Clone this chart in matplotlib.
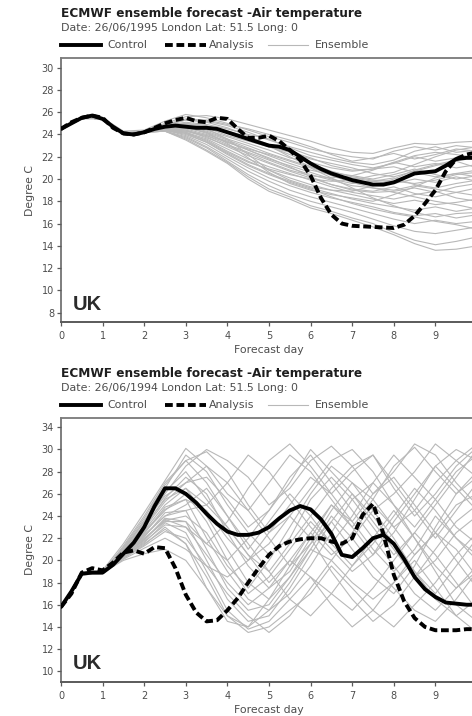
import numpy as np
import matplotlib
matplotlib.use("Agg")
import matplotlib.pyplot as plt
from matplotlib.lines import Line2D

plt.rcParams['font.family'] = ['DejaVu Sans']

W, H = 472, 716

# ---------------------------------------------------------------- data
days_fine = np.arange(0, 10.01, 0.25)
days_ens = np.arange(0, 10.01, 0.5)

# 1995 case
control_1995 = [24.5, 25.0, 25.5, 25.7, 25.4, 24.7, 24.1, 24.0, 24.2, 24.5, 24.7,
                24.8, 24.7, 24.6, 24.6, 24.5, 24.2, 23.9, 23.6, 23.3, 23.0, 22.9,
                22.6, 22.0, 21.4, 20.9, 20.5, 20.2, 19.9, 19.7, 19.5, 19.5, 19.7,
                20.1, 20.5, 20.6, 20.7, 21.2, 21.8, 21.9, 21.9]
analysis_1995 = [24.5, 25.1, 25.5, 25.7, 25.5, 24.6, 24.1, 24.0, 24.2, 24.6, 25.0,
                 25.3, 25.5, 25.2, 25.1, 25.5, 25.4, 24.5, 23.7, 23.7, 23.9, 23.4,
                 22.6, 21.7, 20.3, 18.3, 16.8, 16.0, 15.8, 15.75, 15.7, 15.65, 15.6,
                 15.9, 16.7, 17.8, 19.0, 20.7, 21.8, 22.2, 22.4]
ensemble_1995 = [
    [24.5, 25.5, 25.4, 24.2, 24.3, 25.0, 25.6, 25.7, 25.4, 24.9, 24.4, 23.9, 23.4, 22.8, 22.4, 22.3, 22.8, 23.2, 23.1, 23.3, 23.4],
    [24.5, 25.5, 25.5, 24.3, 24.4, 25.2, 25.8, 25.5, 25.0, 24.4, 23.8, 23.3, 22.7, 22.3, 22.0, 21.8, 22.5, 22.9, 22.6, 23.0, 22.8],
    [24.5, 25.4, 25.4, 24.1, 24.2, 24.9, 25.4, 25.3, 24.9, 24.5, 24.0, 23.5, 22.9, 22.2, 21.6, 21.9, 22.3, 21.8, 22.2, 22.7, 22.5],
    [24.5, 25.5, 25.4, 24.1, 24.2, 24.8, 25.1, 24.9, 24.5, 24.0, 23.6, 22.8, 22.1, 21.7, 21.3, 21.0, 21.4, 22.0, 21.6, 21.9, 22.1],
    [24.5, 25.5, 25.4, 24.0, 24.1, 24.7, 24.9, 24.7, 24.3, 23.8, 23.1, 22.5, 21.9, 21.2, 20.8, 20.9, 21.5, 21.1, 21.4, 21.0, 21.3],
    [24.5, 25.5, 25.4, 24.1, 24.2, 24.8, 25.0, 24.6, 23.9, 23.4, 22.9, 22.4, 21.8, 21.4, 21.0, 20.5, 20.2, 20.7, 21.2, 21.6, 21.0],
    [24.5, 25.5, 25.4, 24.1, 24.2, 24.7, 24.8, 24.4, 23.8, 23.2, 22.6, 21.9, 21.5, 21.0, 20.7, 20.9, 21.1, 20.6, 20.2, 20.5, 20.8],
    [24.5, 25.5, 25.4, 24.1, 24.3, 24.8, 24.7, 24.3, 23.6, 23.0, 22.3, 21.7, 21.1, 20.6, 20.3, 20.0, 20.4, 20.9, 20.4, 20.0, 20.3],
    [24.5, 25.5, 25.4, 24.1, 24.2, 24.6, 24.6, 24.2, 23.5, 22.8, 22.1, 21.4, 20.8, 20.4, 20.1, 19.8, 19.6, 20.0, 19.7, 20.2, 19.8],
    [24.5, 25.5, 25.4, 24.1, 24.2, 24.7, 24.5, 24.0, 23.4, 22.6, 21.8, 21.2, 20.6, 20.0, 19.6, 19.8, 20.1, 19.5, 19.2, 19.6, 19.9],
    [24.5, 25.5, 25.4, 24.1, 24.2, 24.6, 24.4, 23.9, 23.1, 22.4, 21.7, 21.0, 20.4, 19.9, 19.4, 19.2, 19.0, 19.4, 19.1, 18.8, 19.2],
    [24.5, 25.5, 25.4, 24.1, 24.2, 24.5, 24.3, 23.8, 22.9, 22.1, 21.4, 20.7, 20.1, 19.5, 19.1, 18.9, 19.3, 18.7, 18.4, 18.8, 18.5],
    [24.5, 25.5, 25.4, 24.1, 24.2, 24.5, 24.2, 23.6, 22.7, 21.8, 21.1, 20.5, 19.9, 19.3, 18.8, 18.5, 18.2, 18.6, 18.9, 18.3, 18.0],
    [24.5, 25.5, 25.4, 24.1, 24.2, 24.4, 24.1, 23.5, 22.5, 21.6, 20.8, 20.1, 19.5, 19.0, 18.6, 18.2, 17.8, 18.1, 17.7, 17.9, 18.2],
    [24.5, 25.5, 25.4, 24.1, 24.2, 24.4, 24.0, 23.3, 22.3, 21.3, 20.5, 19.8, 19.2, 18.7, 18.2, 17.8, 17.5, 17.2, 17.5, 17.1, 17.4],
    [24.5, 25.5, 25.4, 24.1, 24.2, 24.4, 23.9, 23.1, 22.0, 21.0, 20.1, 19.4, 18.8, 18.3, 17.9, 17.5, 17.0, 16.7, 16.9, 16.5, 16.8],
    [24.5, 25.5, 25.4, 24.1, 24.2, 24.3, 23.8, 22.9, 21.8, 20.7, 19.8, 19.0, 18.4, 17.9, 17.4, 16.9, 16.4, 16.0, 16.3, 16.0, 16.2],
    [24.5, 25.5, 25.4, 24.1, 24.2, 24.3, 23.7, 22.8, 21.6, 20.4, 19.4, 18.6, 18.0, 17.5, 17.0, 16.4, 15.8, 15.3, 15.1, 15.4, 15.7],
    [24.5, 25.5, 25.4, 24.1, 24.2, 24.3, 23.6, 22.6, 21.5, 20.2, 19.1, 18.4, 17.6, 17.1, 16.5, 16.0, 15.2, 14.5, 14.1, 14.4, 14.8],
    [24.5, 25.5, 25.4, 24.1, 24.2, 24.3, 23.5, 22.5, 21.4, 20.0, 18.9, 18.2, 17.4, 16.9, 16.3, 15.7, 15.0, 14.2, 13.6, 13.7, 14.0],
    [24.5, 25.5, 25.4, 24.1, 24.2, 24.6, 24.9, 24.5, 23.6, 22.2, 20.8, 19.9, 19.3, 19.0, 18.9, 19.4, 20.0, 20.8, 21.3, 21.7, 22.0],
    [24.5, 25.5, 25.4, 24.1, 24.2, 24.5, 24.6, 24.2, 23.2, 21.9, 20.6, 19.6, 19.0, 18.6, 18.3, 18.0, 18.6, 19.3, 20.1, 20.5, 20.2],
    [24.5, 25.5, 25.4, 24.1, 24.2, 24.8, 25.3, 25.1, 24.6, 23.9, 23.0, 22.0, 21.1, 20.3, 19.7, 19.2, 18.8, 18.4, 18.0, 17.7, 17.3],
    [24.5, 25.5, 25.4, 24.1, 24.2, 24.6, 24.7, 24.1, 23.3, 22.7, 22.2, 21.6, 21.0, 20.1, 19.2, 18.3, 17.6, 17.0, 16.6, 16.9, 17.0],
    [24.5, 25.5, 25.4, 24.1, 24.2, 24.5, 24.4, 23.7, 23.0, 22.3, 21.5, 20.8, 20.3, 20.1, 20.3, 20.8, 21.5, 22.1, 22.4, 22.2, 21.9],
    [24.5, 25.5, 25.4, 24.1, 24.2, 24.4, 24.2, 23.4, 22.4, 21.5, 20.9, 20.4, 20.0, 19.8, 19.9, 20.3, 20.6, 21.3, 22.0, 22.6, 22.9],
    [24.5, 25.5, 25.4, 24.1, 24.2, 24.7, 25.0, 24.8, 24.2, 23.5, 22.9, 22.2, 21.4, 20.7, 20.2, 19.9, 19.8, 19.6, 19.9, 20.4, 20.6],
    [24.5, 25.5, 25.4, 24.1, 24.2, 24.4, 24.1, 23.3, 22.2, 21.2, 20.4, 19.7, 19.1, 18.4, 17.8, 17.3, 16.9, 16.6, 16.2, 15.9, 15.5],
    [24.5, 25.5, 25.4, 24.1, 24.2, 24.9, 25.3, 25.2, 24.8, 24.2, 23.5, 22.9, 22.4, 21.9, 21.5, 21.3, 21.7, 22.5, 22.9, 22.4, 22.6],
    [24.5, 25.5, 25.4, 24.1, 24.2, 24.5, 24.3, 23.9, 23.3, 22.6, 21.9, 21.1, 20.2, 19.5, 19.0, 18.8, 18.9, 19.2, 18.8, 19.3, 19.6],
]

# 1994 case
control_1994 = [15.8, 17.2, 18.8, 18.9, 18.9, 19.6, 20.6, 21.6, 23.0, 24.9, 26.5,
                26.5, 26.0, 25.2, 24.2, 23.3, 22.6, 22.3, 22.3, 22.5, 23.0, 23.8,
                24.5, 24.9, 24.6, 23.7, 22.4, 20.5, 20.3, 21.1, 22.0, 22.3, 21.5,
                20.1, 18.5, 17.4, 16.7, 16.2, 16.1, 16.0, 16.0]
analysis_1994 = [15.8, 17.0, 18.9, 19.3, 19.1, 19.8, 20.7, 20.9, 20.6, 21.2, 21.1,
                 19.3, 16.9, 15.3, 14.5, 14.6, 15.5, 16.6, 18.0, 19.3, 20.5, 21.3,
                 21.7, 21.9, 22.0, 22.0, 21.7, 21.5, 22.0, 24.1, 25.1, 22.4, 18.7,
                 16.3, 14.8, 14.0, 13.7, 13.7, 13.7, 13.8, 13.8]
ensemble_1994 = [
    [15.8, 18.9, 19.1, 21.5, 24.3, 27.2, 30.1, 28.5, 26.0, 24.5, 27.0, 29.5, 28.0, 25.5, 23.0, 25.5, 28.5, 30.2, 28.0, 26.0, 27.5],
    [15.8, 18.8, 19.0, 21.2, 23.8, 26.8, 29.0, 29.8, 28.0, 25.0, 22.5, 24.0, 26.5, 29.0, 30.0, 28.0, 25.0, 23.0, 25.5, 28.0, 29.5],
    [15.8, 18.8, 18.9, 21.0, 23.5, 26.2, 28.0, 25.5, 23.0, 20.5, 19.0, 21.5, 24.0, 26.5, 28.5, 29.5, 27.0, 24.5, 22.0, 24.5, 27.0],
    [15.8, 18.8, 18.9, 20.8, 23.0, 25.6, 27.5, 26.0, 22.5, 19.5, 17.5, 19.0, 22.0, 25.0, 23.0, 20.5, 22.5, 25.5, 28.5, 30.0, 29.0],
    [15.8, 18.7, 18.8, 20.6, 22.7, 25.0, 26.5, 24.0, 21.0, 18.0, 16.5, 18.5, 21.5, 23.5, 21.0, 18.5, 17.0, 19.5, 23.0, 26.0, 28.0],
    [15.8, 18.8, 18.9, 20.7, 22.4, 24.8, 25.5, 22.0, 19.0, 16.5, 15.5, 17.0, 19.5, 22.5, 25.5, 27.0, 25.0, 22.0, 19.5, 17.5, 19.0],
    [15.8, 18.8, 18.9, 20.5, 22.1, 24.3, 24.5, 21.0, 17.5, 15.5, 16.0, 18.5, 21.0, 20.0, 18.0, 16.5, 18.0, 20.5, 22.5, 21.0, 18.5],
    [15.8, 18.8, 18.9, 20.4, 21.8, 23.8, 23.5, 20.0, 16.5, 14.5, 15.0, 17.5, 20.5, 23.5, 26.0, 24.0, 21.5, 19.0, 16.5, 15.0, 16.5],
    [15.8, 18.8, 18.9, 20.3, 21.6, 23.4, 22.5, 19.0, 15.5, 13.8, 14.5, 16.5, 18.5, 17.0, 15.5, 17.5, 20.0, 22.5, 20.5, 18.0, 15.5],
    [15.8, 18.7, 18.8, 20.2, 21.4, 23.0, 21.5, 18.5, 15.0, 14.0, 15.5, 18.0, 21.0, 24.0, 22.0, 19.5, 17.5, 15.5, 14.5, 16.5, 19.0],
    [15.8, 18.8, 18.9, 20.9, 23.2, 26.0, 28.5, 30.0, 29.0, 27.5, 25.0, 26.5, 29.0, 30.3, 28.5, 26.0, 28.0, 30.5, 29.5, 27.0, 25.0],
    [15.8, 18.8, 19.0, 21.1, 23.6, 26.5, 29.5, 28.0, 25.0, 22.5, 20.5, 22.0, 25.5, 27.5, 25.5, 23.0, 20.5, 22.5, 25.0, 27.5, 30.0],
    [15.8, 18.8, 18.9, 20.8, 22.9, 25.3, 27.0, 27.5, 25.5, 23.0, 24.5, 27.0, 30.0, 28.0, 26.0, 23.5, 21.0, 18.5, 20.0, 22.5, 24.0],
    [15.8, 18.8, 18.9, 20.6, 22.5, 24.5, 26.0, 23.5, 20.0, 17.0, 18.5, 21.0, 23.5, 21.5, 19.5, 21.5, 24.0, 26.5, 24.5, 22.0, 20.5],
    [15.8, 18.8, 18.9, 20.5, 22.2, 24.0, 25.0, 26.5, 24.0, 21.5, 19.0, 16.5, 15.0, 17.0, 19.5, 22.0, 24.5, 22.0, 19.0, 16.0, 14.5],
    [15.8, 18.8, 18.9, 20.4, 21.9, 23.6, 24.0, 22.5, 19.5, 17.5, 20.0, 23.0, 26.0, 28.5, 27.0, 24.5, 26.0, 28.0, 30.5, 29.0, 27.5],
    [15.8, 18.8, 18.9, 20.3, 21.7, 23.2, 23.0, 20.5, 18.0, 16.0, 17.5, 20.0, 18.5, 16.0, 14.0, 15.5, 18.0, 20.0, 17.5, 15.0, 13.5],
    [15.8, 18.7, 18.8, 20.2, 21.3, 22.6, 22.0, 19.5, 17.0, 15.0, 13.5, 15.0, 17.5, 20.0, 22.5, 25.0, 23.0, 20.5, 22.5, 25.0, 26.0],
    [15.8, 18.8, 18.9, 20.1, 21.1, 22.0, 21.0, 19.5, 18.5, 20.0, 22.5, 25.0, 27.5, 26.0, 23.5, 21.0, 19.0, 21.0, 24.0, 22.0, 20.0],
    [15.8, 18.8, 18.9, 20.0, 20.6, 21.0, 20.0, 17.5, 15.0, 13.5, 14.0, 15.5, 17.0, 19.5, 17.5, 15.5, 14.0, 16.0, 18.0, 20.5, 22.5],
    [15.8, 18.8, 18.9, 21.3, 24.0, 27.0, 29.0, 27.0, 24.0, 21.0, 23.5, 26.0, 24.0, 21.5, 24.0, 27.0, 29.5, 27.5, 25.5, 23.0, 21.5],
    [15.8, 18.8, 18.9, 21.0, 23.4, 25.8, 27.0, 28.5, 27.0, 24.5, 22.0, 19.5, 21.5, 24.5, 27.0, 25.5, 23.0, 24.5, 27.0, 29.0, 30.5],
    [15.8, 18.8, 18.9, 20.7, 22.6, 24.6, 25.5, 24.5, 22.0, 20.0, 21.5, 24.0, 22.0, 19.0, 16.5, 14.5, 16.0, 18.5, 21.0, 23.5, 25.0],
    [15.8, 18.8, 18.9, 20.5, 22.0, 23.5, 23.5, 21.5, 20.0, 22.0, 24.5, 27.5, 29.5, 27.0, 24.5, 22.0, 19.5, 17.0, 15.5, 17.5, 19.5],
    [15.8, 18.8, 18.9, 20.6, 22.3, 24.0, 24.5, 25.0, 23.0, 20.5, 18.0, 20.0, 22.5, 25.0, 23.5, 26.0, 27.5, 25.0, 22.5, 20.0, 17.5],
    [15.8, 18.8, 18.9, 20.3, 21.5, 22.8, 21.5, 17.5, 14.5, 14.0, 16.5, 19.5, 22.5, 20.5, 22.0, 24.5, 22.0, 19.0, 17.0, 19.5, 22.0],
    [15.8, 18.8, 18.9, 20.9, 23.1, 25.5, 26.5, 25.0, 27.0, 29.5, 28.0, 25.5, 23.0, 21.0, 19.0, 20.5, 23.5, 26.0, 28.5, 26.5, 24.5],
    [15.8, 18.8, 18.9, 20.4, 21.9, 23.7, 23.0, 21.5, 23.5, 26.5, 29.0, 30.5, 28.5, 26.0, 28.0, 29.5, 26.5, 24.0, 26.0, 28.5, 30.2],
]

x_ticks = list(range(0, 10))
y_ticks_1995 = list(range(8, 31, 2))
y_ticks_1994 = list(range(10, 33, 2))
y_labels_1994 = ['10', '12', '14', '16', '18', '20', '22', '24', '26', '28', '30', '34']

title = "ECMWF ensemble forecast -Air temperature"
subtitles = ["Date: 26/06/1995 London Lat: 51.5 Long: 0",
             "Date: 26/06/1994 London Lat: 51.5 Long: 0"]

# ---------------------------------------------------------------- styles
ENS_COLOR = '#b8b8b8'
TXT_GRAY = '#4d4d4d'
SPINE = '#5a5a5a'
LW_MAIN = 2.8
DASHES = (2.0, 0.95)
SMALL = 7.9

fig = plt.figure(figsize=(W / 100, H / 100), dpi=100)


def fx(px):
    return px / W


def fy(px):
    return 1 - px / H


def make_panel(top_px, bot_px, ylim, ctrl, anal, ens, yticks, ylabels, subtitle):
    left_px, right_px = 61, 61 + 41.6 * 10
    ax = fig.add_axes([fx(left_px), fy(bot_px), (right_px - left_px) / W,
                       (bot_px - top_px) / H])
    for member in ens:
        ax.plot(days_ens, member, color=ENS_COLOR, lw=0.8, zorder=1)
    ax.plot(days_fine, ctrl, color='black', lw=LW_MAIN, solid_capstyle='round',
            solid_joinstyle='round', zorder=3)
    ax.plot(days_fine, anal, color='black', lw=LW_MAIN, dashes=DASHES,
            dash_capstyle='butt', zorder=4)
    ax.set_xlim(0, 10)
    ax.set_ylim(*ylim)
    ax.set_xticks(x_ticks)
    ax.set_yticks(yticks)
    ax.set_yticklabels(ylabels)
    ax.tick_params(axis='both', direction='out', length=3, width=0.9,
                   colors=SPINE, labelcolor=TXT_GRAY, labelsize=7.0, pad=2)
    ax.tick_params(axis='x', pad=3.5)
    for side in ['left', 'bottom', 'top', 'right']:
        ax.spines[side].set_color(SPINE)
    ax.spines['left'].set_linewidth(1.1)
    ax.spines['bottom'].set_linewidth(1.4)
    ax.spines['top'].set_linewidth(1.3)
    ax.spines['top'].set_color('#7a7a7a')
    ax.set_xlabel('Forecast day', fontsize=7.8, color=TXT_GRAY, labelpad=3)
    ax.set_ylabel('Degree C', fontsize=7.8, color=TXT_GRAY, labelpad=5)
    ax.text(0.028, 0.032, 'UK', transform=ax.transAxes, fontsize=14.5,
            fontweight='bold', color='#2b2b2b', ha='left', va='bottom',
            family='Liberation Sans')

    # heading block above the panel
    fig.text(fx(61), fy(top_px - 45), title, fontsize=8.7, fontweight='bold',
             color='#1e1e1e', ha='left', va='center')
    fig.text(fx(61), fy(top_px - 30), subtitle, fontsize=SMALL, color=TXT_GRAY,
             ha='left', va='center')
    ly = fy(top_px - 13)
    fig.add_artist(Line2D([fx(61), fx(101)], [ly, ly], color='black', lw=LW_MAIN,
                          transform=fig.transFigure))
    fig.text(fx(107), ly, 'Control', fontsize=SMALL, color=TXT_GRAY, ha='left',
             va='center')
    fig.add_artist(Line2D([fx(165), fx(206)], [ly, ly], color='black', lw=LW_MAIN,
                          dashes=DASHES, transform=fig.transFigure))
    fig.text(fx(209), ly, 'Analysis', fontsize=SMALL, color=TXT_GRAY, ha='left',
             va='center')
    fig.add_artist(Line2D([fx(268), fx(308)], [ly, ly], color=ENS_COLOR, lw=0.8,
                          transform=fig.transFigure))
    fig.text(fx(315), ly, 'Ensemble', fontsize=SMALL, color=TXT_GRAY, ha='left',
             va='center')
    return ax


make_panel(58, 322, (7.16, 30.87), control_1995, analysis_1995, ensemble_1995,
           y_ticks_1995, [str(v) for v in y_ticks_1995], subtitles[0])
make_panel(418, 681.7, (9.06, 32.84), control_1994, analysis_1994, ensemble_1994,
           y_ticks_1994, y_labels_1994, subtitles[1])

fig.savefig('out.png', dpi=100, facecolor='white')
